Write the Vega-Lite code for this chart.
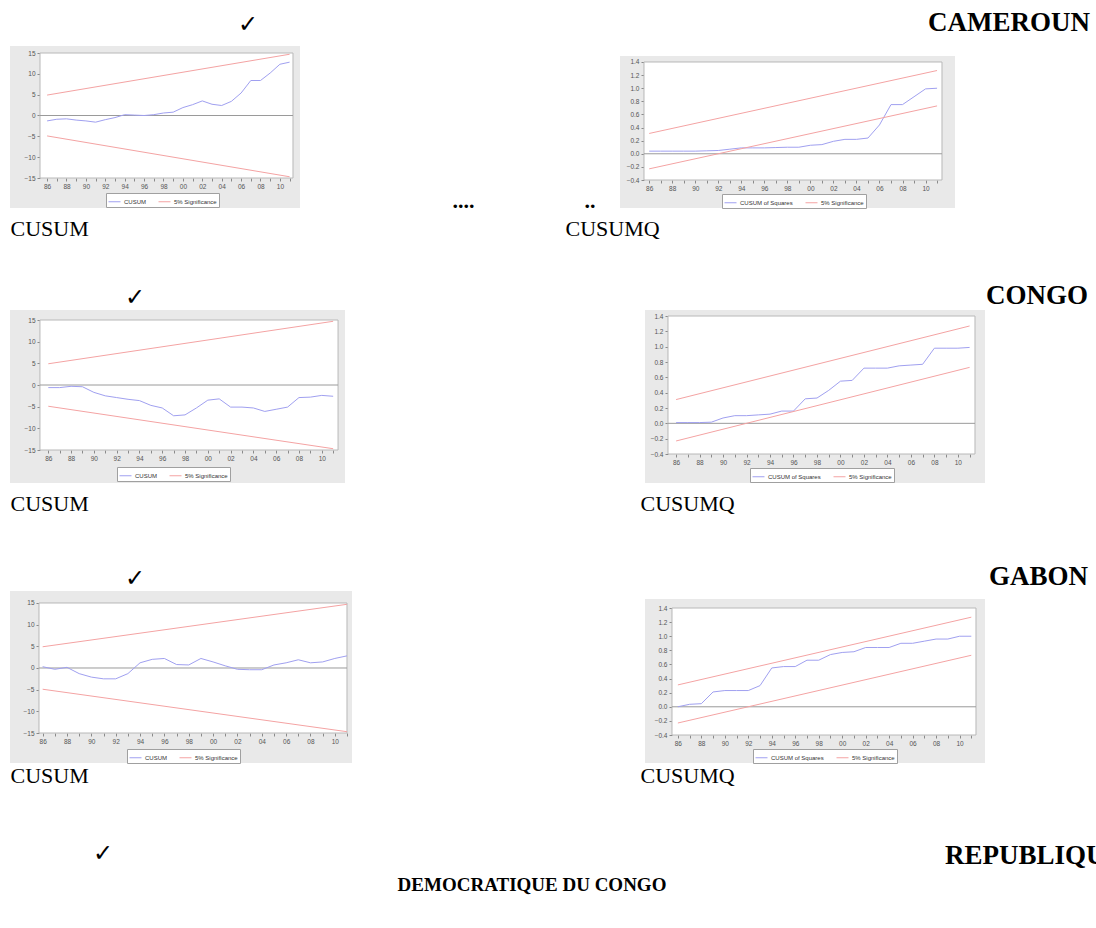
{
"$schema": "https://vega.github.io/schema/vega-lite/v6.json",
"padding": {"left": 10, "top": 9, "right": 0, "bottom": 0},
"background": "white",
"config": {
  "view": {"stroke": null},
  "axis": {"domain": false, "grid": false, "tickSize": 3, "tickColor": "#8a8a8a", "labelFont": "Liberation Sans", "labelFontSize": 6.5, "labelColor": "#555555", "labelPadding": 2, "labelFlush": false, "labelOverlap": false, "labelBound": false, "titleFont": "Liberation Serif", "titleFontSize": 22, "titleFontWeight": "normal", "titleColor": "black", "titleAlign": "left", "titleBaseline": "alphabetic", "titleAngle": 0},
  "legend": {"direction": "horizontal", "symbolType": "stroke", "symbolStrokeWidth": 1, "symbolSize": 144, "labelFont": "Liberation Sans", "labelFontSize": 6, "labelColor": "#333333", "fillColor": "white", "strokeColor": "#a0a0a0", "padding": 2, "columnPadding": 10, "labelOffset": 3},
  "title": {"font": "Liberation Serif", "fontSize": 27, "fontWeight": "bold", "color": "black", "frame": "group", "baseline": "alphabetic"}
},
"datasets": {
  "cam1": [
    {"s":"CUSUM","g":"c","year":1986,"v":-1.3},{"s":"CUSUM","g":"c","year":1987,"v":-0.9},{"s":"CUSUM","g":"c","year":1988,"v":-0.8},{"s":"CUSUM","g":"c","year":1989,"v":-1.1},{"s":"CUSUM","g":"c","year":1990,"v":-1.3},{"s":"CUSUM","g":"c","year":1991,"v":-1.6},{"s":"CUSUM","g":"c","year":1992,"v":-1.0},{"s":"CUSUM","g":"c","year":1993,"v":-0.5},{"s":"CUSUM","g":"c","year":1994,"v":0.2},{"s":"CUSUM","g":"c","year":1995,"v":0.1},{"s":"CUSUM","g":"c","year":1996,"v":0.0},{"s":"CUSUM","g":"c","year":1997,"v":0.2},{"s":"CUSUM","g":"c","year":1998,"v":0.6},{"s":"CUSUM","g":"c","year":1999,"v":0.8},{"s":"CUSUM","g":"c","year":2000,"v":1.9},{"s":"CUSUM","g":"c","year":2001,"v":2.6},{"s":"CUSUM","g":"c","year":2002,"v":3.5},{"s":"CUSUM","g":"c","year":2003,"v":2.7},{"s":"CUSUM","g":"c","year":2004,"v":2.4},{"s":"CUSUM","g":"c","year":2005,"v":3.4},{"s":"CUSUM","g":"c","year":2006,"v":5.4},{"s":"CUSUM","g":"c","year":2007,"v":8.4},{"s":"CUSUM","g":"c","year":2008,"v":8.4},{"s":"CUSUM","g":"c","year":2009,"v":10.2},{"s":"CUSUM","g":"c","year":2010,"v":12.3},{"s":"CUSUM","g":"c","year":2011,"v":12.8},
    {"s":"5% Significance","g":"u","year":1986,"v":4.9},{"s":"5% Significance","g":"u","year":2011,"v":14.7},{"s":"5% Significance","g":"l","year":1986,"v":-4.9},{"s":"5% Significance","g":"l","year":2011,"v":-14.7}
  ],
  "cam2": [
    {"s":"CUSUM of Squares","g":"c","year":1986,"v":0.04},{"s":"CUSUM of Squares","g":"c","year":1987,"v":0.04},{"s":"CUSUM of Squares","g":"c","year":1988,"v":0.04},{"s":"CUSUM of Squares","g":"c","year":1989,"v":0.04},{"s":"CUSUM of Squares","g":"c","year":1990,"v":0.04},{"s":"CUSUM of Squares","g":"c","year":1991,"v":0.045},{"s":"CUSUM of Squares","g":"c","year":1992,"v":0.05},{"s":"CUSUM of Squares","g":"c","year":1993,"v":0.07},{"s":"CUSUM of Squares","g":"c","year":1994,"v":0.09},{"s":"CUSUM of Squares","g":"c","year":1995,"v":0.09},{"s":"CUSUM of Squares","g":"c","year":1996,"v":0.09},{"s":"CUSUM of Squares","g":"c","year":1997,"v":0.095},{"s":"CUSUM of Squares","g":"c","year":1998,"v":0.1},{"s":"CUSUM of Squares","g":"c","year":1999,"v":0.1},{"s":"CUSUM of Squares","g":"c","year":2000,"v":0.13},{"s":"CUSUM of Squares","g":"c","year":2001,"v":0.14},{"s":"CUSUM of Squares","g":"c","year":2002,"v":0.19},{"s":"CUSUM of Squares","g":"c","year":2003,"v":0.22},{"s":"CUSUM of Squares","g":"c","year":2004,"v":0.22},{"s":"CUSUM of Squares","g":"c","year":2005,"v":0.24},{"s":"CUSUM of Squares","g":"c","year":2006,"v":0.44},{"s":"CUSUM of Squares","g":"c","year":2007,"v":0.75},{"s":"CUSUM of Squares","g":"c","year":2008,"v":0.75},{"s":"CUSUM of Squares","g":"c","year":2009,"v":0.87},{"s":"CUSUM of Squares","g":"c","year":2010,"v":0.99},{"s":"CUSUM of Squares","g":"c","year":2011,"v":1.0},
    {"s":"5% Significance","g":"u","year":1986,"v":0.31},{"s":"5% Significance","g":"u","year":2011,"v":1.27},{"s":"5% Significance","g":"l","year":1986,"v":-0.23},{"s":"5% Significance","g":"l","year":2011,"v":0.73}
  ],
  "con1": [
    {"s":"CUSUM","g":"c","year":1986,"v":-0.6},{"s":"CUSUM","g":"c","year":1987,"v":-0.6},{"s":"CUSUM","g":"c","year":1988,"v":-0.3},{"s":"CUSUM","g":"c","year":1989,"v":-0.4},{"s":"CUSUM","g":"c","year":1990,"v":-1.7},{"s":"CUSUM","g":"c","year":1991,"v":-2.5},{"s":"CUSUM","g":"c","year":1992,"v":-2.9},{"s":"CUSUM","g":"c","year":1993,"v":-3.3},{"s":"CUSUM","g":"c","year":1994,"v":-3.6},{"s":"CUSUM","g":"c","year":1995,"v":-4.7},{"s":"CUSUM","g":"c","year":1996,"v":-5.3},{"s":"CUSUM","g":"c","year":1997,"v":-7.1},{"s":"CUSUM","g":"c","year":1998,"v":-6.9},{"s":"CUSUM","g":"c","year":1999,"v":-5.3},{"s":"CUSUM","g":"c","year":2000,"v":-3.5},{"s":"CUSUM","g":"c","year":2001,"v":-3.2},{"s":"CUSUM","g":"c","year":2002,"v":-5.1},{"s":"CUSUM","g":"c","year":2003,"v":-5.1},{"s":"CUSUM","g":"c","year":2004,"v":-5.3},{"s":"CUSUM","g":"c","year":2005,"v":-6.1},{"s":"CUSUM","g":"c","year":2006,"v":-5.6},{"s":"CUSUM","g":"c","year":2007,"v":-5.1},{"s":"CUSUM","g":"c","year":2008,"v":-2.9},{"s":"CUSUM","g":"c","year":2009,"v":-2.8},{"s":"CUSUM","g":"c","year":2010,"v":-2.4},{"s":"CUSUM","g":"c","year":2011,"v":-2.6},
    {"s":"5% Significance","g":"u","year":1986,"v":4.9},{"s":"5% Significance","g":"u","year":2011,"v":14.7},{"s":"5% Significance","g":"l","year":1986,"v":-4.9},{"s":"5% Significance","g":"l","year":2011,"v":-14.7}
  ],
  "con2": [
    {"s":"CUSUM of Squares","g":"c","year":1986,"v":0.01},{"s":"CUSUM of Squares","g":"c","year":1987,"v":0.01},{"s":"CUSUM of Squares","g":"c","year":1988,"v":0.01},{"s":"CUSUM of Squares","g":"c","year":1989,"v":0.015},{"s":"CUSUM of Squares","g":"c","year":1990,"v":0.07},{"s":"CUSUM of Squares","g":"c","year":1991,"v":0.1},{"s":"CUSUM of Squares","g":"c","year":1992,"v":0.1},{"s":"CUSUM of Squares","g":"c","year":1993,"v":0.11},{"s":"CUSUM of Squares","g":"c","year":1994,"v":0.12},{"s":"CUSUM of Squares","g":"c","year":1995,"v":0.16},{"s":"CUSUM of Squares","g":"c","year":1996,"v":0.16},{"s":"CUSUM of Squares","g":"c","year":1997,"v":0.32},{"s":"CUSUM of Squares","g":"c","year":1998,"v":0.33},{"s":"CUSUM of Squares","g":"c","year":1999,"v":0.43},{"s":"CUSUM of Squares","g":"c","year":2000,"v":0.55},{"s":"CUSUM of Squares","g":"c","year":2001,"v":0.56},{"s":"CUSUM of Squares","g":"c","year":2002,"v":0.72},{"s":"CUSUM of Squares","g":"c","year":2003,"v":0.72},{"s":"CUSUM of Squares","g":"c","year":2004,"v":0.72},{"s":"CUSUM of Squares","g":"c","year":2005,"v":0.75},{"s":"CUSUM of Squares","g":"c","year":2006,"v":0.76},{"s":"CUSUM of Squares","g":"c","year":2007,"v":0.77},{"s":"CUSUM of Squares","g":"c","year":2008,"v":0.98},{"s":"CUSUM of Squares","g":"c","year":2009,"v":0.98},{"s":"CUSUM of Squares","g":"c","year":2010,"v":0.98},{"s":"CUSUM of Squares","g":"c","year":2011,"v":0.99},
    {"s":"5% Significance","g":"u","year":1986,"v":0.31},{"s":"5% Significance","g":"u","year":2011,"v":1.27},{"s":"5% Significance","g":"l","year":1986,"v":-0.23},{"s":"5% Significance","g":"l","year":2011,"v":0.73}
  ],
  "gab1": [
    {"s":"CUSUM","g":"c","year":1986,"v":0.3},{"s":"CUSUM","g":"c","year":1987,"v":-0.3},{"s":"CUSUM","g":"c","year":1988,"v":0.15},{"s":"CUSUM","g":"c","year":1989,"v":-1.3},{"s":"CUSUM","g":"c","year":1990,"v":-2.1},{"s":"CUSUM","g":"c","year":1991,"v":-2.5},{"s":"CUSUM","g":"c","year":1992,"v":-2.5},{"s":"CUSUM","g":"c","year":1993,"v":-1.3},{"s":"CUSUM","g":"c","year":1994,"v":1.2},{"s":"CUSUM","g":"c","year":1995,"v":2.0},{"s":"CUSUM","g":"c","year":1996,"v":2.2},{"s":"CUSUM","g":"c","year":1997,"v":0.8},{"s":"CUSUM","g":"c","year":1998,"v":0.7},{"s":"CUSUM","g":"c","year":1999,"v":2.2},{"s":"CUSUM","g":"c","year":2000,"v":1.4},{"s":"CUSUM","g":"c","year":2001,"v":0.5},{"s":"CUSUM","g":"c","year":2002,"v":-0.3},{"s":"CUSUM","g":"c","year":2003,"v":-0.4},{"s":"CUSUM","g":"c","year":2004,"v":-0.4},{"s":"CUSUM","g":"c","year":2005,"v":0.7},{"s":"CUSUM","g":"c","year":2006,"v":1.2},{"s":"CUSUM","g":"c","year":2007,"v":1.9},{"s":"CUSUM","g":"c","year":2008,"v":1.2},{"s":"CUSUM","g":"c","year":2009,"v":1.4},{"s":"CUSUM","g":"c","year":2010,"v":2.2},{"s":"CUSUM","g":"c","year":2011,"v":2.8},
    {"s":"5% Significance","g":"u","year":1986,"v":4.9},{"s":"5% Significance","g":"u","year":2011,"v":14.7},{"s":"5% Significance","g":"l","year":1986,"v":-4.9},{"s":"5% Significance","g":"l","year":2011,"v":-14.7}
  ],
  "gab2": [
    {"s":"CUSUM of Squares","g":"c","year":1986,"v":0.0},{"s":"CUSUM of Squares","g":"c","year":1987,"v":0.035},{"s":"CUSUM of Squares","g":"c","year":1988,"v":0.044},{"s":"CUSUM of Squares","g":"c","year":1989,"v":0.21},{"s":"CUSUM of Squares","g":"c","year":1990,"v":0.23},{"s":"CUSUM of Squares","g":"c","year":1991,"v":0.23},{"s":"CUSUM of Squares","g":"c","year":1992,"v":0.23},{"s":"CUSUM of Squares","g":"c","year":1993,"v":0.3},{"s":"CUSUM of Squares","g":"c","year":1994,"v":0.55},{"s":"CUSUM of Squares","g":"c","year":1995,"v":0.57},{"s":"CUSUM of Squares","g":"c","year":1996,"v":0.57},{"s":"CUSUM of Squares","g":"c","year":1997,"v":0.66},{"s":"CUSUM of Squares","g":"c","year":1998,"v":0.66},{"s":"CUSUM of Squares","g":"c","year":1999,"v":0.74},{"s":"CUSUM of Squares","g":"c","year":2000,"v":0.77},{"s":"CUSUM of Squares","g":"c","year":2001,"v":0.78},{"s":"CUSUM of Squares","g":"c","year":2002,"v":0.84},{"s":"CUSUM of Squares","g":"c","year":2003,"v":0.84},{"s":"CUSUM of Squares","g":"c","year":2004,"v":0.84},{"s":"CUSUM of Squares","g":"c","year":2005,"v":0.9},{"s":"CUSUM of Squares","g":"c","year":2006,"v":0.9},{"s":"CUSUM of Squares","g":"c","year":2007,"v":0.93},{"s":"CUSUM of Squares","g":"c","year":2008,"v":0.96},{"s":"CUSUM of Squares","g":"c","year":2009,"v":0.96},{"s":"CUSUM of Squares","g":"c","year":2010,"v":1.0},{"s":"CUSUM of Squares","g":"c","year":2011,"v":1.0},
    {"s":"5% Significance","g":"u","year":1986,"v":0.31},{"s":"5% Significance","g":"u","year":2011,"v":1.27},{"s":"5% Significance","g":"l","year":1986,"v":-0.23},{"s":"5% Significance","g":"l","year":2011,"v":0.73}
  ]
},
"spacing": 56,
"bounds": "full",
"resolve": {"scale": {"color": "independent"}, "legend": {"color": "independent"}},
"vconcat": [
 {"vconcat": [
 {"hconcat": [
  {"width": 290, "height": 162, "view": {"fill": "#e9e9e9", "stroke": null},
   "title": {"text": "✓", "anchor": "start", "dx": 228, "offset": 9, "font": "DejaVu Sans", "fontSize": 24, "fontWeight": "normal"},
   "layer": [
    {"data": {"values": [{}]}, "mark": {"type": "rect", "fill": "white", "stroke": "#b8b8b8", "strokeWidth": 1},
     "encoding": {"x": {"datum": 1985.27, "type": "quantitative", "scale": {"domain": [1982.177, 2012.072], "nice": false, "zero": false}, "axis": {"values": [1986,1987,1988,1989,1990,1991,1992,1993,1994,1995,1996,1997,1998,1999,2000,2001,2002,2003,2004,2005,2006,2007,2008,2009,2010,2011], "format": "d", "labelExpr": "datum.value % 2 == 0 ? substring(datum.label, 2) : ''", "offset": -30, "title": "CUSUM", "titleX": 0, "titleY": 57}}, "x2": {"datum": 2011.35},
                  "y": {"datum": -15, "type": "quantitative", "scale": {"domain": [-22.2, 16.68], "nice": false, "zero": false}, "axis": {"values": [-15,-10,-5,0,5,10,15], "format": "d", "offset": -30, "title": null}}, "y2": {"datum": 15}}},
    {"data": {"values": [{}]}, "mark": {"type": "rule", "color": "#9a9a9a", "strokeWidth": 1},
     "encoding": {"x": {"datum": 1985.27, "type": "quantitative", "axis": {"values": [1986,1987,1988,1989,1990,1991,1992,1993,1994,1995,1996,1997,1998,1999,2000,2001,2002,2003,2004,2005,2006,2007,2008,2009,2010,2011], "format": "d", "labelExpr": "datum.value % 2 == 0 ? substring(datum.label, 2) : ''", "offset": -30, "title": "CUSUM", "titleX": 0, "titleY": 57}}, "x2": {"datum": 2011.35},
                  "y": {"datum": 0, "type": "quantitative", "axis": {"values": [-15,-10,-5,0,5,10,15], "format": "d", "offset": -30, "title": null}}}},
    {"data": {"name": "cam1"}, "mark": {"type": "line", "strokeWidth": 1},
     "encoding": {
      "x": {"field": "year", "type": "quantitative", "axis": {"values": [1986,1987,1988,1989,1990,1991,1992,1993,1994,1995,1996,1997,1998,1999,2000,2001,2002,2003,2004,2005,2006,2007,2008,2009,2010,2011], "format": "d", "labelExpr": "datum.value % 2 == 0 ? substring(datum.label, 2) : ''", "offset": -30, "title": "CUSUM", "titleX": 0, "titleY": 57}},
      "y": {"field": "v", "type": "quantitative", "axis": {"values": [-15,-10,-5,0,5,10,15], "format": "d", "offset": -30, "title": null}},
      "color": {"field": "s", "type": "nominal", "scale": {"domain": ["CUSUM", "5% Significance"], "range": ["#a0a0f0", "#f4a3a3"]}, "legend": {"orient": "none", "legendX": 96, "legendY": 147, "title": null}},
      "detail": {"field": "g"}}}
   ]},
  {"width": 335, "height": 162, "view": {"fill": "#e9e9e9", "stroke": null},
   "title": {"text": "CAMEROUN", "anchor": "end", "dx": 135, "offset": 9},
   "layer": [
    {"data": {"values": [{}]}, "mark": {"type": "rect", "fill": "white", "stroke": "#b8b8b8", "strokeWidth": 1},
     "encoding": {"x": {"datum": 1985.55, "type": "quantitative", "scale": {"domain": [1983.466, 2012.559], "nice": false, "zero": false}, "axis": {"values": [1986,1987,1988,1989,1990,1991,1992,1993,1994,1995,1996,1997,1998,1999,2000,2001,2002,2003,2004,2005,2006,2007,2008,2009,2010,2011], "format": "d", "labelExpr": "datum.value % 2 == 0 ? substring(datum.label, 2) : ''", "offset": -28, "title": "CUSUMQ", "titleX": -55, "titleY": 55}}, "x2": {"datum": 2011.43},
                  "y": {"datum": -0.4, "type": "quantitative", "scale": {"domain": [-0.8271, 1.644], "nice": false, "zero": false}, "axis": {"values": [-0.4,-0.2,0,0.2,0.4,0.6,0.8,1.0,1.2,1.4], "format": ".1f", "offset": -24, "title": "....\u00a0\u00a0\u00a0\u00a0\u00a0\u00a0\u00a0\u00a0\u00a0\u00a0\u00a0\u00a0\u00a0\u00a0\u00a0\u00a0\u00a0\u00a0\u00a0\u00a0..", "titleFontWeight": "bold", "titleFontSize": 22, "titleX": -192, "titleY": 161}}, "y2": {"datum": 1.4}}},
    {"data": {"values": [{}]}, "mark": {"type": "rect", "fill": "white"},
     "encoding": {"x": {"datum": 1983.466, "type": "quantitative", "axis": {"values": [1986,1987,1988,1989,1990,1991,1992,1993,1994,1995,1996,1997,1998,1999,2000,2001,2002,2003,2004,2005,2006,2007,2008,2009,2010,2011], "format": "d", "labelExpr": "datum.value % 2 == 0 ? substring(datum.label, 2) : ''", "offset": -28, "title": "CUSUMQ", "titleX": -55, "titleY": 55}}, "x2": {"datum": 2012.559},
                  "y": {"datum": 1.4915, "type": "quantitative", "axis": {"values": [-0.4,-0.2,0,0.2,0.4,0.6,0.8,1.0,1.2,1.4], "format": ".1f", "offset": -24, "title": "....\u00a0\u00a0\u00a0\u00a0\u00a0\u00a0\u00a0\u00a0\u00a0\u00a0\u00a0\u00a0\u00a0\u00a0\u00a0\u00a0\u00a0\u00a0\u00a0\u00a0..", "titleFontWeight": "bold", "titleFontSize": 22, "titleX": -192, "titleY": 161}}, "y2": {"datum": 1.644}}},
    {"data": {"values": [{}]}, "mark": {"type": "rule", "color": "#9a9a9a", "strokeWidth": 1},
     "encoding": {"x": {"datum": 1985.55, "type": "quantitative", "axis": {"values": [1986,1987,1988,1989,1990,1991,1992,1993,1994,1995,1996,1997,1998,1999,2000,2001,2002,2003,2004,2005,2006,2007,2008,2009,2010,2011], "format": "d", "labelExpr": "datum.value % 2 == 0 ? substring(datum.label, 2) : ''", "offset": -28, "title": "CUSUMQ", "titleX": -55, "titleY": 55}}, "x2": {"datum": 2011.43},
                  "y": {"datum": 0, "type": "quantitative", "axis": {"values": [-0.4,-0.2,0,0.2,0.4,0.6,0.8,1.0,1.2,1.4], "format": ".1f", "offset": -24, "title": "....\u00a0\u00a0\u00a0\u00a0\u00a0\u00a0\u00a0\u00a0\u00a0\u00a0\u00a0\u00a0\u00a0\u00a0\u00a0\u00a0\u00a0\u00a0\u00a0\u00a0..", "titleFontWeight": "bold", "titleFontSize": 22, "titleX": -192, "titleY": 161}}}},
    {"data": {"name": "cam2"}, "mark": {"type": "line", "strokeWidth": 1},
     "encoding": {
      "x": {"field": "year", "type": "quantitative", "axis": {"values": [1986,1987,1988,1989,1990,1991,1992,1993,1994,1995,1996,1997,1998,1999,2000,2001,2002,2003,2004,2005,2006,2007,2008,2009,2010,2011], "format": "d", "labelExpr": "datum.value % 2 == 0 ? substring(datum.label, 2) : ''", "offset": -28, "title": "CUSUMQ", "titleX": -55, "titleY": 55}},
      "y": {"field": "v", "type": "quantitative", "axis": {"values": [-0.4,-0.2,0,0.2,0.4,0.6,0.8,1.0,1.2,1.4], "format": ".1f", "offset": -24, "title": "....\u00a0\u00a0\u00a0\u00a0\u00a0\u00a0\u00a0\u00a0\u00a0\u00a0\u00a0\u00a0\u00a0\u00a0\u00a0\u00a0\u00a0\u00a0\u00a0\u00a0..", "titleFontWeight": "bold", "titleFontSize": 22, "titleX": -192, "titleY": 161}},
      "color": {"field": "s", "type": "nominal", "scale": {"domain": ["CUSUM of Squares", "5% Significance"], "range": ["#a0a0f0", "#f4a3a3"]}, "legend": {"orient": "none", "legendX": 102, "legendY": 148, "title": null}},
      "detail": {"field": "g"}}}
   ]}
 ], "spacing": 152, "bounds": "full", "resolve": {"scale": {"color": "independent"}, "legend": {"color": "independent"}}},
 {"vconcat": [
 {"hconcat": [
  {"width": 335, "height": 173, "view": {"fill": "#e9e9e9", "stroke": null},
   "title": {"text": "✓", "anchor": "start", "dx": 115, "offset": 0, "font": "DejaVu Sans", "fontSize": 24, "fontWeight": "normal"},
   "layer": [
    {"data": {"values": [{}]}, "mark": {"type": "rect", "fill": "white", "stroke": "#b8b8b8", "strokeWidth": 1},
     "encoding": {"x": {"datum": 1985.27, "type": "quantitative", "scale": {"domain": [1982.64, 2012.04], "nice": false, "zero": false}, "axis": {"values": [1986,1987,1988,1989,1990,1991,1992,1993,1994,1995,1996,1997,1998,1999,2000,2001,2002,2003,2004,2005,2006,2007,2008,2009,2010,2011], "format": "d", "labelExpr": "datum.value % 2 == 0 ? substring(datum.label, 2) : ''", "offset": -33, "title": "CUSUM", "titleX": 0, "titleY": 60}}, "x2": {"datum": 2011.43},
                  "y": {"datum": -15, "type": "quantitative", "scale": {"domain": [-22.615, 17.308], "nice": false, "zero": false}, "axis": {"values": [-15,-10,-5,0,5,10,15], "format": "d", "offset": -30, "title": null}}, "y2": {"datum": 15}}},
    {"data": {"values": [{}]}, "mark": {"type": "rule", "color": "#9a9a9a", "strokeWidth": 1},
     "encoding": {"x": {"datum": 1985.27, "type": "quantitative", "axis": {"values": [1986,1987,1988,1989,1990,1991,1992,1993,1994,1995,1996,1997,1998,1999,2000,2001,2002,2003,2004,2005,2006,2007,2008,2009,2010,2011], "format": "d", "labelExpr": "datum.value % 2 == 0 ? substring(datum.label, 2) : ''", "offset": -33, "title": "CUSUM", "titleX": 0, "titleY": 60}}, "x2": {"datum": 2011.43},
                  "y": {"datum": 0, "type": "quantitative", "axis": {"values": [-15,-10,-5,0,5,10,15], "format": "d", "offset": -30, "title": null}}}},
    {"data": {"name": "con1"}, "mark": {"type": "line", "strokeWidth": 1},
     "encoding": {
      "x": {"field": "year", "type": "quantitative", "axis": {"values": [1986,1987,1988,1989,1990,1991,1992,1993,1994,1995,1996,1997,1998,1999,2000,2001,2002,2003,2004,2005,2006,2007,2008,2009,2010,2011], "format": "d", "labelExpr": "datum.value % 2 == 0 ? substring(datum.label, 2) : ''", "offset": -33, "title": "CUSUM", "titleX": 0, "titleY": 60}},
      "y": {"field": "v", "type": "quantitative", "axis": {"values": [-15,-10,-5,0,5,10,15], "format": "d", "offset": -30, "title": null}},
      "color": {"field": "s", "type": "nominal", "scale": {"domain": ["CUSUM", "5% Significance"], "range": ["#a0a0f0", "#f4a3a3"]}, "legend": {"orient": "none", "legendX": 107, "legendY": 157, "title": null}},
      "detail": {"field": "g"}}}
   ]},
  {"width": 340, "height": 173, "view": {"fill": "#e9e9e9", "stroke": null},
   "title": {"text": "CONGO", "anchor": "end", "dx": 103, "offset": 0},
   "layer": [
    {"data": {"values": [{}]}, "mark": {"type": "rect", "fill": "white", "stroke": "#b8b8b8", "strokeWidth": 1},
     "encoding": {"x": {"datum": 1985.31, "type": "quantitative", "scale": {"domain": [1983.351, 2012.312], "nice": false, "zero": false}, "axis": {"values": [1986,1987,1988,1989,1990,1991,1992,1993,1994,1995,1996,1997,1998,1999,2000,2001,2002,2003,2004,2005,2006,2007,2008,2009,2010,2011], "format": "d", "labelExpr": "datum.value % 2 == 0 ? substring(datum.label, 2) : ''", "offset": -29, "title": "CUSUMQ", "titleX": -5, "titleY": 56}}, "x2": {"datum": 2011.46},
                  "y": {"datum": -0.4, "type": "quantitative", "scale": {"domain": [-0.7782, 1.4783], "nice": false, "zero": false}, "axis": {"values": [-0.4,-0.2,0,0.2,0.4,0.6,0.8,1.0,1.2,1.4], "format": ".1f", "offset": -23, "title": null}}, "y2": {"datum": 1.4}}},
    {"data": {"values": [{}]}, "mark": {"type": "rule", "color": "#9a9a9a", "strokeWidth": 1},
     "encoding": {"x": {"datum": 1985.31, "type": "quantitative", "axis": {"values": [1986,1987,1988,1989,1990,1991,1992,1993,1994,1995,1996,1997,1998,1999,2000,2001,2002,2003,2004,2005,2006,2007,2008,2009,2010,2011], "format": "d", "labelExpr": "datum.value % 2 == 0 ? substring(datum.label, 2) : ''", "offset": -29, "title": "CUSUMQ", "titleX": -5, "titleY": 56}}, "x2": {"datum": 2011.46},
                  "y": {"datum": 0, "type": "quantitative", "axis": {"values": [-0.4,-0.2,0,0.2,0.4,0.6,0.8,1.0,1.2,1.4], "format": ".1f", "offset": -23, "title": null}}}},
    {"data": {"name": "con2"}, "mark": {"type": "line", "strokeWidth": 1},
     "encoding": {
      "x": {"field": "year", "type": "quantitative", "axis": {"values": [1986,1987,1988,1989,1990,1991,1992,1993,1994,1995,1996,1997,1998,1999,2000,2001,2002,2003,2004,2005,2006,2007,2008,2009,2010,2011], "format": "d", "labelExpr": "datum.value % 2 == 0 ? substring(datum.label, 2) : ''", "offset": -29, "title": "CUSUMQ", "titleX": -5, "titleY": 56}},
      "y": {"field": "v", "type": "quantitative", "axis": {"values": [-0.4,-0.2,0,0.2,0.4,0.6,0.8,1.0,1.2,1.4], "format": ".1f", "offset": -23, "title": null}},
      "color": {"field": "s", "type": "nominal", "scale": {"domain": ["CUSUM of Squares", "5% Significance"], "range": ["#a0a0f0", "#f4a3a3"]}, "legend": {"orient": "none", "legendX": 105, "legendY": 158, "title": null}},
      "detail": {"field": "g"}}}
   ]}
 ], "spacing": 295, "bounds": "full", "resolve": {"scale": {"color": "independent"}, "legend": {"color": "independent"}}},
 {"hconcat": [
  {"width": 342, "height": 172, "view": {"fill": "#e9e9e9", "stroke": null},
   "title": {"text": "✓", "anchor": "start", "dx": 115, "offset": 0, "font": "DejaVu Sans", "fontSize": 24, "fontWeight": "normal"},
   "layer": [
    {"data": {"values": [{}]}, "mark": {"type": "rect", "fill": "white", "stroke": "#b8b8b8", "strokeWidth": 1},
     "encoding": {"x": {"datum": 1985.7, "type": "quantitative", "scale": {"domain": [1983.318, 2011.411], "nice": false, "zero": false}, "axis": {"values": [1986,1987,1988,1989,1990,1991,1992,1993,1994,1995,1996,1997,1998,1999,2000,2001,2002,2003,2004,2005,2006,2007,2008,2009,2010,2011], "format": "d", "labelExpr": "datum.value % 2 == 0 ? substring(datum.label, 2) : ''", "offset": -30, "title": "CUSUM", "titleX": 0, "titleY": 49}}, "x2": {"datum": 2011.0},
                  "y": {"datum": -15, "type": "quantitative", "scale": {"domain": [-21.923, 17.769], "nice": false, "zero": false}, "axis": {"values": [-15,-10,-5,0,5,10,15], "format": "d", "offset": -29, "title": null}}, "y2": {"datum": 15}}},
    {"data": {"values": [{}]}, "mark": {"type": "rule", "color": "#9a9a9a", "strokeWidth": 1},
     "encoding": {"x": {"datum": 1985.7, "type": "quantitative", "axis": {"values": [1986,1987,1988,1989,1990,1991,1992,1993,1994,1995,1996,1997,1998,1999,2000,2001,2002,2003,2004,2005,2006,2007,2008,2009,2010,2011], "format": "d", "labelExpr": "datum.value % 2 == 0 ? substring(datum.label, 2) : ''", "offset": -30, "title": "CUSUM", "titleX": 0, "titleY": 49}}, "x2": {"datum": 2011.0},
                  "y": {"datum": 0, "type": "quantitative", "axis": {"values": [-15,-10,-5,0,5,10,15], "format": "d", "offset": -29, "title": null}}}},
    {"data": {"name": "gab1"}, "mark": {"type": "line", "strokeWidth": 1},
     "encoding": {
      "x": {"field": "year", "type": "quantitative", "axis": {"values": [1986,1987,1988,1989,1990,1991,1992,1993,1994,1995,1996,1997,1998,1999,2000,2001,2002,2003,2004,2005,2006,2007,2008,2009,2010,2011], "format": "d", "labelExpr": "datum.value % 2 == 0 ? substring(datum.label, 2) : ''", "offset": -30, "title": "CUSUM", "titleX": 0, "titleY": 49}},
      "y": {"field": "v", "type": "quantitative", "axis": {"values": [-15,-10,-5,0,5,10,15], "format": "d", "offset": -29, "title": null}},
      "color": {"field": "s", "type": "nominal", "scale": {"domain": ["CUSUM", "5% Significance"], "range": ["#a0a0f0", "#f4a3a3"]}, "legend": {"orient": "none", "legendX": 117, "legendY": 158, "title": null}},
      "detail": {"field": "g"}}}
   ]},
  {"width": 340, "height": 172, "view": {"fill": "#e9e9e9", "stroke": null},
   "title": {"text": "GABON", "anchor": "end", "dx": 103, "offset": 0},
   "layer": [
    {"data": {"values": [{}]}, "mark": {"type": "rect", "fill": "white", "stroke": "#b8b8b8", "strokeWidth": 1},
     "encoding": {"x": {"datum": 1985.5, "type": "quantitative", "scale": {"domain": [1983.2, 2012.167], "nice": false, "zero": false}, "axis": {"values": [1986,1987,1988,1989,1990,1991,1992,1993,1994,1995,1996,1997,1998,1999,2000,2001,2002,2003,2004,2005,2006,2007,2008,2009,2010,2011], "format": "d", "labelExpr": "datum.value % 2 == 0 ? substring(datum.label, 2) : ''", "offset": -28, "title": "CUSUMQ", "titleX": -5, "titleY": 47}}, "x2": {"datum": 2011.4},
                  "y": {"datum": -0.4, "type": "quantitative", "scale": {"domain": [-0.7968, 1.641], "nice": false, "zero": false}, "axis": {"values": [-0.4,-0.2,0,0.2,0.4,0.6,0.8,1.0,1.2,1.4], "format": ".1f", "offset": -27, "title": null}}, "y2": {"datum": 1.4}}},
    {"data": {"values": [{}]}, "mark": {"type": "rect", "fill": "white"},
     "encoding": {"x": {"datum": 1983.2, "type": "quantitative", "axis": {"values": [1986,1987,1988,1989,1990,1991,1992,1993,1994,1995,1996,1997,1998,1999,2000,2001,2002,2003,2004,2005,2006,2007,2008,2009,2010,2011], "format": "d", "labelExpr": "datum.value % 2 == 0 ? substring(datum.label, 2) : ''", "offset": -28, "title": "CUSUMQ", "titleX": -5, "titleY": 47}}, "x2": {"datum": 2012.167},
                  "y": {"datum": 1.5276, "type": "quantitative", "axis": {"values": [-0.4,-0.2,0,0.2,0.4,0.6,0.8,1.0,1.2,1.4], "format": ".1f", "offset": -27, "title": null}}, "y2": {"datum": 1.641}}},
    {"data": {"values": [{}]}, "mark": {"type": "rule", "color": "#9a9a9a", "strokeWidth": 1},
     "encoding": {"x": {"datum": 1985.5, "type": "quantitative", "axis": {"values": [1986,1987,1988,1989,1990,1991,1992,1993,1994,1995,1996,1997,1998,1999,2000,2001,2002,2003,2004,2005,2006,2007,2008,2009,2010,2011], "format": "d", "labelExpr": "datum.value % 2 == 0 ? substring(datum.label, 2) : ''", "offset": -28, "title": "CUSUMQ", "titleX": -5, "titleY": 47}}, "x2": {"datum": 2011.4},
                  "y": {"datum": 0, "type": "quantitative", "axis": {"values": [-0.4,-0.2,0,0.2,0.4,0.6,0.8,1.0,1.2,1.4], "format": ".1f", "offset": -27, "title": null}}}},
    {"data": {"name": "gab2"}, "mark": {"type": "line", "strokeWidth": 1},
     "encoding": {
      "x": {"field": "year", "type": "quantitative", "axis": {"values": [1986,1987,1988,1989,1990,1991,1992,1993,1994,1995,1996,1997,1998,1999,2000,2001,2002,2003,2004,2005,2006,2007,2008,2009,2010,2011], "format": "d", "labelExpr": "datum.value % 2 == 0 ? substring(datum.label, 2) : ''", "offset": -28, "title": "CUSUMQ", "titleX": -5, "titleY": 47}},
      "y": {"field": "v", "type": "quantitative", "axis": {"values": [-0.4,-0.2,0,0.2,0.4,0.6,0.8,1.0,1.2,1.4], "format": ".1f", "offset": -27, "title": null}},
      "color": {"field": "s", "type": "nominal", "scale": {"domain": ["CUSUM of Squares", "5% Significance"], "range": ["#a0a0f0", "#f4a3a3"]}, "legend": {"orient": "none", "legendX": 108, "legendY": 158, "title": null}},
      "detail": {"field": "g"}}}
   ]}
 ], "spacing": 288, "bounds": "full", "resolve": {"scale": {"color": "independent"}, "legend": {"color": "independent"}}}
 ], "spacing": 49, "bounds": "full", "resolve": {"scale": {"color": "independent"}, "legend": {"color": "independent"}}}
 ], "spacing": 43, "bounds": "full", "resolve": {"scale": {"color": "independent"}, "legend": {"color": "independent"}}},
 {"vconcat": [
   {"hconcat": [
     {"width": 287, "height": 1, "data": {"values": []}, "mark": "point",
      "title": {"text": "✓", "anchor": "start", "dx": 83, "offset": 6, "font": "DejaVu Sans", "fontSize": 24, "fontWeight": "normal"}},
     {"width": 150, "height": 1, "data": {"values": []}, "mark": "point",
      "title": {"text": "REPUBLIQUE", "anchor": "start", "dx": 0, "offset": 2}}
   ], "spacing": 648, "bounds": "full"},
   {"width": 1076, "height": 1, "data": {"values": []}, "mark": "point",
    "title": {"text": "DEMOCRATIQUE DU CONGO", "anchor": "middle", "dx": -16, "offset": 2, "fontSize": 19}}
 ], "spacing": 3, "bounds": "full"}
]
}
